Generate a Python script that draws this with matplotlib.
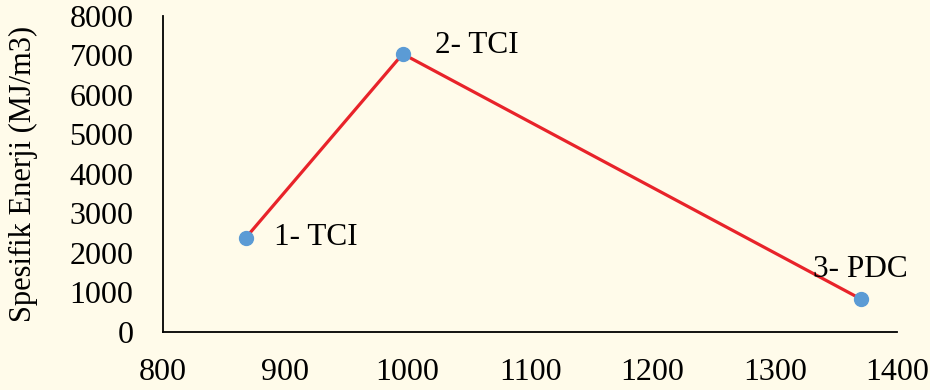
import matplotlib
matplotlib.use('Agg')
import matplotlib.pyplot as plt

# Data
x_vals = [868, 996, 1370]
y_vals = [2390, 7040, 835]
labels = ['1- TCI', '2- TCI', '3- PDC']
x_ticks = [800, 900, 1000, 1100, 1200, 1300, 1400]
y_ticks = [0, 1000, 2000, 3000, 4000, 5000, 6000, 7000, 8000]

plt.rcParams['font.family'] = ['Liberation Serif', 'DejaVu Serif']

bg = '#FFFBEA'
fig = plt.figure(figsize=(9.3, 3.9), dpi=100, facecolor=bg)
ax = fig.add_axes([0.175, 0.149, 0.79, 0.81], facecolor=bg)

ax.plot(x_vals, y_vals, color='#E8232A', linewidth=2.3, zorder=2)
ax.plot(x_vals, y_vals, linestyle='none', marker='o', markersize=10,
        color='#5B9BD5', zorder=3)

# point labels
offsets = [(20, 0, 'left', 'center'), (23, 6, 'left', 'center'), (0, 21, 'center', 'center')]
for xv, yv, lab, (dx, dy, ha, va) in zip(x_vals, y_vals, labels, offsets):
    ax.annotate(lab, (xv, yv), xytext=(dx, dy), textcoords='offset points',
                ha=ha, va=va, fontsize=22.5)

ax.set_xlim(800, 1400)
ax.set_ylim(0, 8000)
ax.set_xticks(x_ticks)
ax.set_yticks(y_ticks)
ax.tick_params(axis='both', length=0, labelsize=23)
ax.tick_params(axis='x', pad=19)
ax.tick_params(axis='y', pad=21)
ax.set_ylabel('Spesifik Enerji (MJ/m3)', fontsize=22, labelpad=23)

for side in ['top', 'right']:
    ax.spines[side].set_visible(False)
for side in ['left', 'bottom']:
    ax.spines[side].set_linewidth(1.3)
    ax.spines[side].set_color('black')

fig.savefig('out.png', dpi=100, facecolor=bg)
